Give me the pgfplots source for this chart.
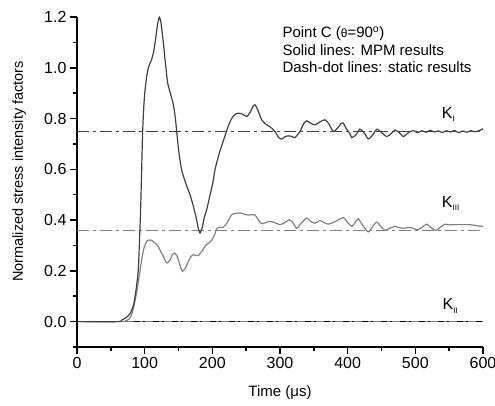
\documentclass[border=0pt]{standalone}
\usepackage{fontspec}
\setmainfont{Liberation Sans}
\usepackage{pgfplots}
\pgfplotsset{compat=1.18}
\definecolor{kone}{HTML}{404040}
\definecolor{kthree}{HTML}{808080}
\begin{document}
\begin{tikzpicture}
\path[use as bounding box] (-77pt,-58pt) rectangle (418pt,347pt);
\begin{axis}[
  at={(0,0)}, anchor=south west,
  scale only axis, width=406pt, height=330pt,
  xmin=0, xmax=600, ymin=-0.1, ymax=1.2,
  axis x line=bottom, axis y line=left,
  axis line style={line width=1.5pt,-},
  clip=false,
  xtick={0,100,...,600},
  minor xtick={50,150,...,550},
  ytick={0,0.2,...,1.2},
  minor ytick={-0.1,0.1,0.3,0.5,0.7,0.9,1.1},
  tick align=outside,
  major tick length=7pt, minor tick length=4pt,
  every tick/.style={line width=1.5pt,black},
  yticklabel style={/pgf/number format/fixed,/pgf/number format/fixed zerofill,/pgf/number format/precision=1},
  /pgf/number format/assume math mode=true,
  ticklabel style={font=\fontsize{16}{18}\selectfont},
  xlabel={Time (μs)}, ylabel={Normalized stress intensity factors},
  every axis x label/.style={at={(axis description cs:0.5,0)}, anchor=base, yshift=-49pt, font=\fontsize{15}{18}\selectfont},
  every axis y label/.style={at={([xshift=-54pt]axis description cs:0,0.532)}, anchor=base, rotate=90, font=\fontsize{14.5}{18}\selectfont},
]
% static lines
\addplot[kone, line width=1.2pt, dash pattern=on 12pt off 4pt on 3pt off 4pt] coordinates {(0,0.75) (600,0.75)};
\addplot[kthree, line width=1.2pt, dash pattern=on 12pt off 4pt on 3pt off 4pt] coordinates {(0,0.358) (600,0.358)};
% KII MPM
\addplot[kthree, line width=1.2pt] coordinates {(0,0) (600,0)};
\addplot[black, line width=1.2pt, dash pattern=on 6pt off 3pt on 2pt off 8pt] coordinates {(0,0) (600,0)};
% KIII MPM
\addplot[kthree, line width=1.2pt, smooth, tension=0.4] coordinates {
(0,0) (65,0) (72,0.003) (77,0.01) (80.8,0.028) (84,0.06) (88,0.113) (92,0.18) (95.6,0.244) (99,0.29) (103,0.316) (107,0.322) (110,0.32) (115,0.31) (120,0.296) (124,0.275) (127.6,0.257) (131,0.237) (134,0.231) (138,0.245) (141,0.265) (143.8,0.27) (147,0.262) (149.8,0.244) (153,0.215) (155.7,0.198) (160,0.21) (164.5,0.237) (168,0.255) (172,0.264) (176,0.26) (179,0.26) (183,0.272) (186.7,0.286) (190,0.30) (195,0.31) (199,0.32) (203,0.34) (206.4,0.365) (211,0.372) (216,0.372) (222,0.39) (228.6,0.421) (235,0.427) (243,0.428) (248,0.422) (253,0.42) (258,0.421) (263,0.42) (268,0.4) (273,0.386) (279,0.39) (285,0.395) (292,0.39) (300,0.382) (307,0.39) (313.7,0.401) (319,0.39) (324.6,0.368) (332,0.39) (339.5,0.408) (345,0.395) (351.7,0.388) (359,0.398) (365,0.39) (371.4,0.384) (378,0.39) (386,0.4) (393.5,0.41) (400,0.39) (406,0.375) (411,0.39) (415.7,0.405) (422,0.38) (430.5,0.353) (437,0.375) (443,0.392) (449,0.375) (455,0.359) (462,0.368) (470,0.375) (476,0.37) (482,0.368) (492,0.371) (498,0.366) (504,0.362) (510,0.372) (516.8,0.384) (523,0.37) (530.5,0.359) (537,0.372) (543.8,0.384) (550,0.381) (556,0.382) (568,0.382) (580.8,0.382) (590,0.378) (600,0.375)};
% KI MPM
\addplot[kone, line width=1.2pt, smooth, tension=0.4] coordinates {
(0,0) (60,0) (66,0.006) (72,0.015) (78.3,0.031) (84,0.07) (88,0.14) (90.6,0.205) (92.5,0.33) (94,0.44) (95.6,0.6) (97,0.75) (99,0.86) (100.5,0.91) (103,0.965) (106,1.005) (110,1.03) (113,1.06) (116,1.11) (119,1.17) (121.6,1.199) (124,1.18) (127.6,1.10) (131,1.01) (134,0.94) (138,0.90) (142,0.86) (145,0.81) (147.3,0.75) (150,0.68) (153.7,0.61) (157,0.575) (162,0.535) (167,0.50) (172,0.454) (176,0.41) (179,0.37) (181.8,0.349) (185,0.37) (188,0.41) (191.6,0.44) (195,0.48) (201,0.55) (204,0.60) (211,0.67) (216,0.71) (221,0.75) (225,0.78) (228.6,0.80) (233,0.815) (238.4,0.821) (244,0.818) (250.8,0.808) (256,0.825) (260,0.848) (263,0.854) (267,0.835) (273,0.795) (279,0.778) (285,0.768) (292.6,0.749) (298,0.725) (302.5,0.719) (307,0.728) (312,0.732) (317,0.73) (322,0.725) (329.5,0.749) (335,0.78) (339.5,0.791) (345,0.782) (351.7,0.775) (359,0.787) (366.5,0.795) (372,0.78) (378.8,0.749) (385,0.762) (390,0.78) (393.5,0.782) (398,0.76) (403,0.742) (406,0.725) (412,0.735) (418,0.758) (424,0.745) (430.5,0.72) (437,0.735) (443,0.758) (450,0.745) (457.7,0.729) (464,0.74) (470,0.755) (476,0.745) (482,0.729) (487,0.738) (492,0.749) (498,0.752) (503,0.744) (510,0.752) (516,0.746) (522,0.754) (528,0.747) (534,0.751) (540,0.745) (546,0.752) (552,0.747) (558,0.753) (564,0.744) (570,0.751) (576,0.746) (582,0.752) (588,0.748) (594,0.752) (600,0.76)};
% annotations
\node[anchor=base west, inner sep=0pt, font=\fontsize{15}{18}\selectfont] at (axis cs:303.4,1.12) {Point C ({\fontsize{12}{14}\selectfont θ}=90\textsuperscript{o})};
\node[anchor=base west, inner sep=0pt, font=\fontsize{15}{18}\selectfont] at (axis cs:303.4,1.050) {Solid lines: MPM results};
\node[anchor=base west, inner sep=0pt, font=\fontsize{15}{18}\selectfont] at (axis cs:303.4,0.981) {Dash-dot lines: static results};
\node[anchor=base west, inner sep=0pt, font=\fontsize{16}{18}\selectfont] at (axis cs:539,0.801) {K\raisebox{-0.4ex}{\fontsize{8}{9}\selectfont I}};
\node[anchor=base west, inner sep=0pt, font=\fontsize{16}{18}\selectfont] at (axis cs:539,0.451) {K\raisebox{-0.4ex}{\fontsize{8}{9}\selectfont III}};
\node[anchor=base west, inner sep=0pt, font=\fontsize{16}{18}\selectfont] at (axis cs:540,0.047) {K\raisebox{-0.4ex}{\fontsize{8}{9}\selectfont II}};
\end{axis}
\end{tikzpicture}
\end{document}
